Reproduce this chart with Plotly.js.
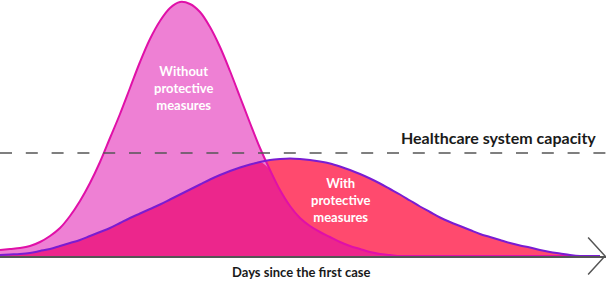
<!DOCTYPE html>
<html>
<head>
<meta charset="utf-8">
<script src="https://cdn.plot.ly/plotly-3.0.1.min.js"></script>
<style>html,body{margin:0;padding:0;background:#fff;}#chart{width:606px;height:281px;}</style>
</head>
<body>
<div id="chart"></div>
<script>
// Days since the first case
const days = [0,2,4,6,8,10,12,14,16,18,20,22,24,26,28,30,32,34,36,38,40,
  42,44,46,48,50,52,54,56,58,60,62,64,66,68,70,72,74,76,78,80,
  82,84,86,88,90,92,94,96,98,100,102,104,106,108,110,112,114,116,118,120];
// Cases without protective measures
const withoutMeasures = [6,7,8,10,14,20,28,40,55,73,94,118,142,168,194,217,235,248,254,252,244,
  229,209,185,159,133,108,86,66,50,38,30,24,19,14,10,7,4,2,1,0,
  0,0,0,0,0,0,0,0,0,0,0,0,0,0,0,0,0,0,0,0];
// Cases with protective measures
const withMeasures = [1,1.5,2,3,5,7,10,13,16,20,24,28,33,38,42.5,47,51.5,56.5,61.5,66.5,71.5,
  76.5,81,85,88.5,91.5,94,96,97,97.5,97,96,94.5,92.5,89.5,86,82,77.5,72.5,67,61.5,
  55.5,49.5,44,38.5,34,30,26,22,19,16,13,10.5,8.5,6,4,2.5,1,0,0,0];
const capacity = 103;
const labels = {
  without: 'Without<br>protective<br>measures',
  with: 'With<br>protective<br>measures',
  capacity: 'Healthcare system capacity',
  xTitle: 'Days since the first case'
};

const overlap = withMeasures.map((v, i) => Math.min(v, withoutMeasures[i]));

const fillTrace = (y, color) => ({
  x: days, y: y, type: 'scatter', mode: 'lines', fill: 'tozeroy',
  fillcolor: color, line: {width: 0, shape: 'spline', smoothing: 1}, hoverinfo: 'skip'
});
const lineTrace = (y, color) => ({
  x: days, y: y, type: 'scatter', mode: 'lines',
  line: {width: 2, color: color, shape: 'spline', smoothing: 1}, hoverinfo: 'skip'
});

const data = [
  fillTrace(withMeasures, '#FF4A6E'),
  fillTrace(withoutMeasures, '#EE80D4'),
  fillTrace(overlap, '#EC268C'),
  lineTrace(withoutMeasures, '#E010A8'),
  lineTrace(withMeasures, '#7A1CD2')
];

const font = {family: 'Lato, "Open Sans", sans-serif'};
const layout = {
  width: 606, height: 281,
  margin: {l: 0, r: 0, t: 0, b: 25, pad: 0},
  paper_bgcolor: '#fff', plot_bgcolor: '#fff',
  showlegend: false,
  xaxis: {range: [0, 121.2], showgrid: false, zeroline: false, showticklabels: false,
    ticks: '', showline: true, linecolor: '#555', linewidth: 1.5, fixedrange: true},
  yaxis: {range: [0, 256], showgrid: false, zeroline: false, showticklabels: false,
    ticks: '', showline: false, fixedrange: true},
  shapes: [
    {type: 'line', xref: 'paper', yref: 'y', x0: 0, x1: 1, y0: capacity, y1: capacity,
      line: {color: '#555', width: 1.5, dash: '12px,13.8px'}, layer: 'above'},
    {type: 'path', xref: 'paper', yref: 'paper',
      path: 'M 0.9705 0.072 L 0.9984 0 L 0.9705 -0.072',
      line: {color: '#555', width: 1.5}, layer: 'above'}
  ],
  annotations: [
    {x: 36.6, y: 168, xref: 'x', yref: 'y', text: labels.without, showarrow: false,
      font: Object.assign({size: 13, color: '#fff', weight: 700}, font), align: 'center'},
    {x: 68, y: 56, xref: 'x', yref: 'y', text: labels.with, showarrow: false,
      font: Object.assign({size: 13, color: '#fff', weight: 700}, font), align: 'center'},
    {x: 119.6, y: 119, xref: 'x', yref: 'y', xanchor: 'right', yanchor: 'middle', text: labels.capacity, showarrow: false,
      font: Object.assign({size: 16, color: '#1a1a1a', weight: 700}, font)},
    {x: 0.497, y: -0.0625, xref: 'paper', yref: 'paper', yanchor: 'middle', text: labels.xTitle, showarrow: false,
      font: Object.assign({size: 13, color: '#1a1a1a', weight: 700}, font)}
  ]
};

Plotly.newPlot('chart', data, layout, {staticPlot: true, displayModeBar: false});
</script>
</body>
</html>
